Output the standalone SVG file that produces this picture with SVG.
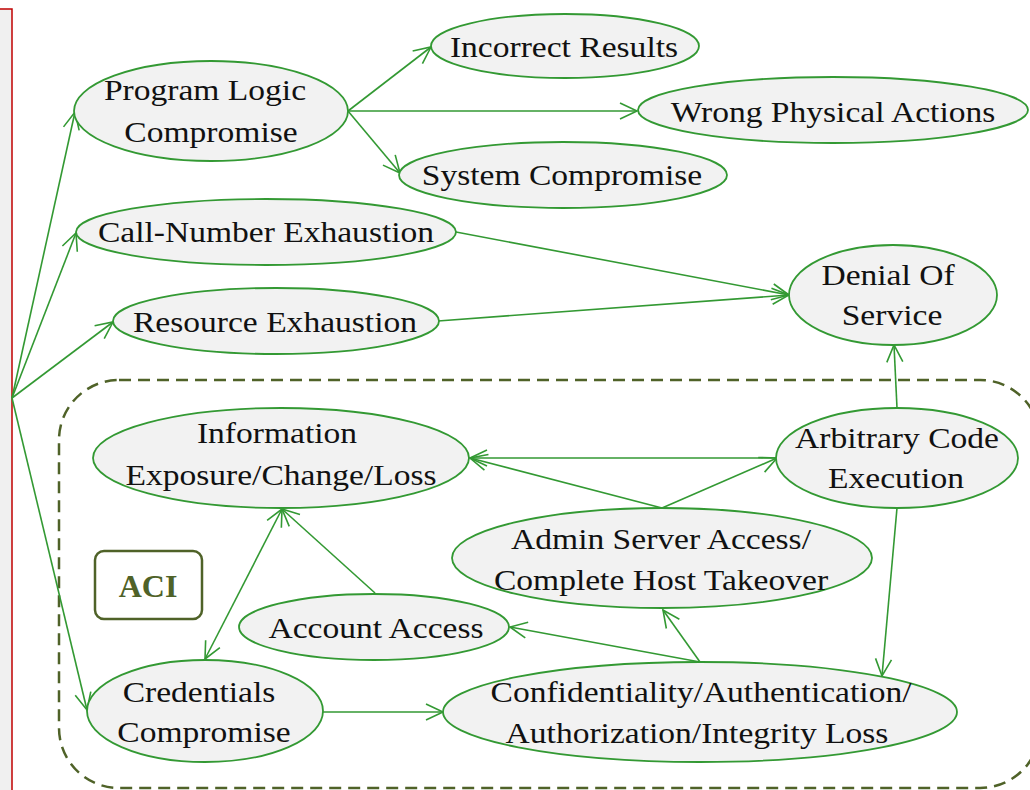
<svg xmlns="http://www.w3.org/2000/svg" width="1030" height="790" viewBox="0 0 1030 790">
<defs>
<marker id="ah" viewBox="-20 -10 22 20" refX="0" refY="0" markerWidth="22" markerHeight="20" markerUnits="userSpaceOnUse" orient="auto-start-reverse">
<path d="M-17,-8 L0,0 L-17,8" fill="none" stroke="#339933" stroke-width="1.6"/>
</marker>
</defs>
<style>
.n ellipse{fill:#f2f2f2;stroke:#339933;stroke-width:1.8}
.n text{font-family:"Liberation Serif","Times New Roman",serif;font-size:30.5px;fill:#111;text-anchor:middle}
#edges path{fill:none;stroke:#339933;stroke-width:1.6;marker-end:url(#ah)}
.aci{fill:none;stroke:#4f6228;stroke-width:2.5}
</style>
<rect x="-5" y="9" width="17" height="800" fill="#f0f0f0" stroke="#c00000" stroke-width="1.5"/>
<rect id="aci-boundary" class="aci" x="59" y="380" width="981" height="408" rx="60" stroke-dasharray="12 7"/>
<g id="aci-label">
<rect class="aci" x="95" y="551" width="107" height="68" rx="9"/>
<text x="148" y="597" font-family="Liberation Serif,serif" font-size="32" font-weight="bold" fill="#4f6228" text-anchor="middle">ACI</text>
</g>
<g id="edges">
<path d="M12,398 L75,112"/>
<path d="M12,398 L76,233"/>
<path d="M12,398 L113,322"/>
<path d="M12,398 L87,710"/>
<path d="M348,111 L431,47"/>
<path d="M348,111 L637,111"/>
<path d="M348,111 L400,173"/>
<path d="M456,232 L789,295"/>
<path d="M438,321 L789,295"/>
<path d="M897,408 L894,345"/>
<path d="M777,458 L470,458"/>
<path d="M662,508 L470,458"/>
<path d="M662,508 L777,458"/>
<path d="M897,508 L882,676"/>
<path d="M700,662 L663,610"/>
<path d="M700,662 L510,627"/>
<path d="M323,712 L443,712"/>
<path d="M205,659 L282,509" marker-start="url(#ah)"/>
<path d="M375,593 L282,509"/>
</g>
<g id="program-logic" class="n"><ellipse cx="211" cy="111" rx="137" ry="50"/>
<text transform="translate(205,100) scale(1.1,1)">Program Logic</text>
<text transform="translate(211,142) scale(1.1,1)">Compromise</text></g>
<g id="incorrect-results" class="n"><ellipse cx="565" cy="46" rx="134" ry="32"/>
<text transform="translate(564,57) scale(1.1,1)">Incorrect Results</text></g>
<g id="wrong-physical" class="n"><ellipse cx="833" cy="110" rx="195" ry="33"/>
<text transform="translate(833,122) scale(1.1,1)">Wrong Physical Actions</text></g>
<g id="system-compromise" class="n"><ellipse cx="563" cy="175" rx="164" ry="33"/>
<text transform="translate(562,185) scale(1.1,1)">System Compromise</text></g>
<g id="call-number" class="n"><ellipse cx="266" cy="232" rx="190" ry="33"/>
<text transform="translate(266,242) scale(1.1,1)">Call-Number Exhaustion</text></g>
<g id="resource" class="n"><ellipse cx="276" cy="321" rx="163" ry="33"/>
<text transform="translate(275,332) scale(1.1,1)">Resource Exhaustion</text></g>
<g id="denial" class="n"><ellipse cx="893" cy="295" rx="104" ry="50"/>
<text transform="translate(888,285) scale(1.1,1)">Denial Of</text>
<text transform="translate(892,325) scale(1.1,1)">Service</text></g>
<g id="information" class="n"><ellipse cx="281" cy="458" rx="188" ry="50"/>
<text transform="translate(277,443) scale(1.1,1)">Information</text>
<text transform="translate(281,485) scale(1.1,1)">Exposure/Change/Loss</text></g>
<g id="arbitrary" class="n"><ellipse cx="897" cy="458" rx="121" ry="50"/>
<text transform="translate(897,448) scale(1.1,1)">Arbitrary Code</text>
<text transform="translate(896,488) scale(1.1,1)">Execution</text></g>
<g id="admin" class="n"><ellipse cx="662" cy="558" rx="210" ry="50"/>
<text transform="translate(661,549) scale(1.1,1)">Admin Server Access/</text>
<text transform="translate(661,590) scale(1.1,1)">Complete Host Takeover</text></g>
<g id="account" class="n"><ellipse cx="374" cy="627" rx="135" ry="33"/>
<text transform="translate(376,638) scale(1.1,1)">Account Access</text></g>
<g id="credentials" class="n"><ellipse cx="205" cy="711" rx="118" ry="51"/>
<text transform="translate(199,702) scale(1.1,1)">Credentials</text>
<text transform="translate(204,742) scale(1.1,1)">Compromise</text></g>
<g id="confidentiality" class="n"><ellipse cx="700" cy="712" rx="257" ry="50"/>
<text transform="translate(701,702) scale(1.1,1)">Confidentiality/Authentication/</text>
<text transform="translate(697,743) scale(1.1,1)">Authorization/Integrity Loss</text></g>
</svg>
